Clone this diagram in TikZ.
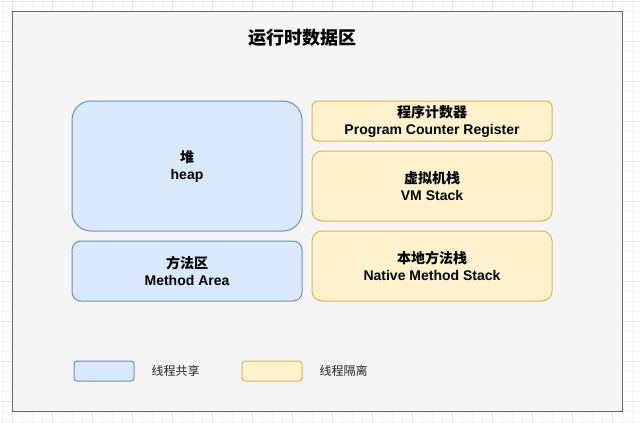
\documentclass[tikz,border=0pt]{standalone}
\usepackage{fontspec}
\setmainfont{Liberation Sans}
\newfontfamily\cjk{Noto Sans CJK SC}
\usetikzlibrary{positioning}
\definecolor{sharedfill}{HTML}{DAE8FC}
\definecolor{sharedline}{HTML}{6C8EBF}
\definecolor{privfill}{HTML}{FFF2CC}
\definecolor{privline}{HTML}{D6B656}
\definecolor{areafill}{HTML}{F5F5F5}
\definecolor{arealine}{HTML}{666666}

\begin{document}
\begin{tikzpicture}[x=1pt, y=-1pt, line width=1pt,
  shared/.style={draw=sharedline, fill=sharedfill, align=center, inner sep=0pt, outer sep=0pt,
    font=\fontsize{14}{17}\selectfont\bfseries},
  private/.style={draw=privline, fill=privfill, align=center, inner sep=0pt, outer sep=0pt,
    font=\fontsize{14}{17}\selectfont\bfseries},
  key/.style={font=\fontsize{12}{14}\selectfont\cjk, text=black!85, anchor=west, inner sep=0pt}]
  % page with the editor grid
  \fill[white] (0,0) rectangle (640,423);
  \useasboundingbox (0,0) rectangle (640,423);
  \foreach \gx in {2,12,...,632}
    \draw[black!4, line width=0.8pt] (\gx,0) -- (\gx,423);
  \foreach \gy in {1,11,...,421}
    \draw[black!4, line width=0.8pt] (0,\gy) -- (640,\gy);
  \foreach \gx in {12,52,...,612}
    \draw[black!9, line width=0.8pt] (\gx,0) -- (\gx,423);
  \foreach \gy in {1,41,...,401}
    \draw[black!9, line width=0.8pt] (0,\gy) -- (640,\gy);

  % runtime data area
  \node[draw=arealine, fill=areafill, minimum width=610pt, minimum height=400pt,
    inner sep=0pt] (area) at (317,211) {};
  \node[font=\fontsize{18}{20}\selectfont\bfseries\cjk] (title) at (302,38) {运行时数据区};

  % shared by threads
  \node[shared, rounded corners=19pt, minimum width=230pt, minimum height=130pt]
    (heap) at (187,166) {{\cjk 堆}\\heap};
  \node[shared, rounded corners=9pt, minimum width=230pt, minimum height=60pt,
    below=10pt of heap] (method) {{\cjk 方法区}\\Method Area};

  % private to a thread
  \node[private, rounded corners=6pt, minimum width=240pt, minimum height=40pt]
    (pc) at (432,121) {{\cjk 程序计数器}\\Program Counter Register};
  \node[private, rounded corners=10pt, minimum width=240pt, minimum height=70pt,
    below=10pt of pc] (vmstack) {{\cjk 虚拟机栈}\\VM Stack};
  \node[private, rounded corners=10pt, minimum width=240pt, minimum height=70pt,
    below=10pt of vmstack] (native) {{\cjk 本地方法栈}\\Native Method Stack};

  % legend
  \node[shared, rounded corners=3pt, minimum width=60pt, minimum height=20pt]
    (keyshared) at (104,371) {};
  \node[key] (keysharedtext) at (151,371) {线程共享};
  \node[private, rounded corners=3pt, minimum width=60pt, minimum height=20pt]
    (keyprivate) at (272,371) {};
  \node[key] (keyprivatetext) at (319,371) {线程隔离};
\end{tikzpicture}
\end{document}
